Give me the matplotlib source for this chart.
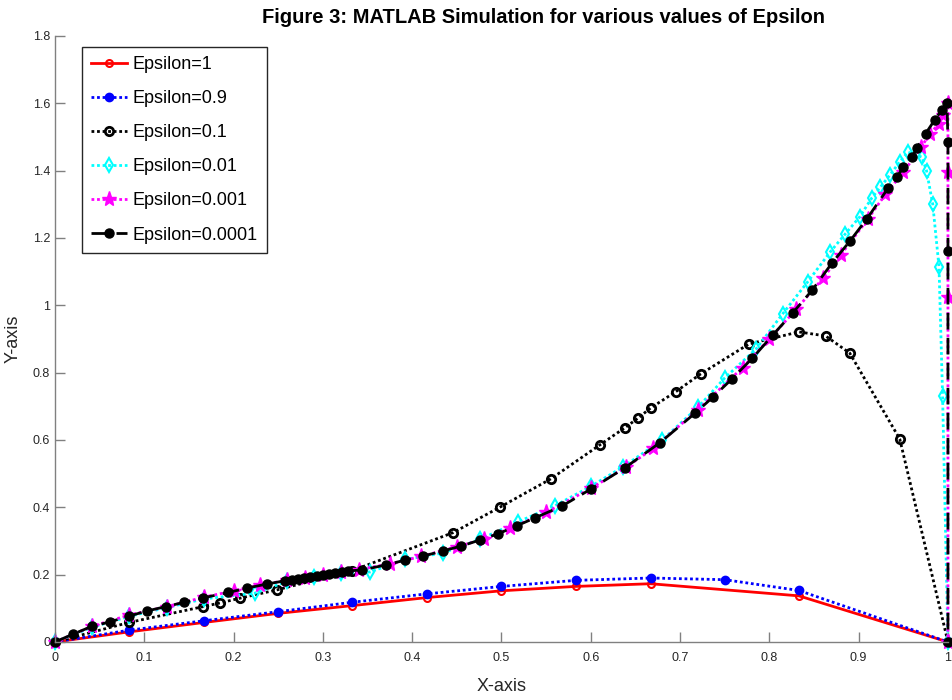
import matplotlib as mpl
import matplotlib.pyplot as plt
from matplotlib.ticker import FuncFormatter

mpl.rcParams.update({
    "font.family": ["Liberation Sans", "DejaVu Sans"],
    "font.size": 9,
})

# Epsilon = 1
x_e1 = [0, 0.083, 0.167, 0.25, 0.333, 0.417, 0.5, 0.583, 0.667, 0.833, 1.0]
y_e1 = [0, 0.030, 0.058, 0.085, 0.108, 0.132, 0.152, 0.165, 0.173, 0.137, 0]

# Epsilon = 0.9
x_e09 = [0, 0.083, 0.167, 0.25, 0.333, 0.417, 0.5, 0.583, 0.667, 0.75, 0.833, 1.0]
y_e09 = [0, 0.035, 0.063, 0.090, 0.118, 0.143, 0.165, 0.183, 0.190, 0.185, 0.153, 0]

# Epsilon = 0.1
x_e01 = [0, 0.083, 0.166, 0.185, 0.207, 0.249, 0.333, 0.446, 0.498, 0.555,
         0.61, 0.638, 0.653, 0.667, 0.695, 0.723, 0.777, 0.833, 0.863, 0.89,
         0.946, 1.0]
y_e01 = [0, 0.058, 0.105, 0.116, 0.130, 0.155, 0.212, 0.325, 0.400, 0.484,
         0.585, 0.636, 0.665, 0.695, 0.743, 0.796, 0.885, 0.921, 0.909, 0.858,
         0.603, 0]

# Epsilon = 0.01
x_e001 = [0, 0.042, 0.083, 0.125, 0.167, 0.224, 0.26, 0.29, 0.32, 0.353,
          0.392, 0.434, 0.476, 0.518, 0.56, 0.6, 0.636, 0.68, 0.72, 0.75,
          0.785, 0.815, 0.843, 0.868, 0.885, 0.901, 0.915, 0.924, 0.935, 0.946,
          0.955, 0.971, 0.976, 0.983, 0.99, 0.994, 1.0]
y_e001 = [0, 0.044, 0.076, 0.102, 0.128, 0.145, 0.180, 0.192, 0.204, 0.208,
          0.245, 0.264, 0.305, 0.356, 0.405, 0.462, 0.520, 0.600, 0.697, 0.784,
          0.870, 0.975, 1.070, 1.158, 1.212, 1.262, 1.320, 1.350, 1.387, 1.426,
          1.455, 1.440, 1.400, 1.300, 1.114, 0.730, 0]

# Epsilon = 0.001
x_e0001 = [0, 0.042, 0.083, 0.125, 0.167, 0.2, 0.23, 0.26, 0.28, 0.3,
           0.32, 0.34, 0.375, 0.41, 0.45, 0.48, 0.51, 0.55, 0.6, 0.64,
           0.67, 0.72, 0.77, 0.8, 0.83, 0.86, 0.88, 0.91, 0.93, 0.95,
           0.97, 0.98, 0.99, 0.995, 1.0, 1.0, 1.0, 1.0]
y_e0001 = [0, 0.047, 0.080, 0.105, 0.133, 0.152, 0.170, 0.183, 0.190, 0.200,
           0.207, 0.215, 0.232, 0.254, 0.283, 0.305, 0.338, 0.385, 0.456, 0.520,
           0.575, 0.690, 0.815, 0.900, 0.988, 1.080, 1.150, 1.255, 1.330, 1.395,
           1.470, 1.510, 1.540, 1.565, 1.600, 1.396, 1.025, 0]

# Epsilon = 0.0001
x_e00001 = [0, 0.02, 0.041, 0.062, 0.083, 0.103, 0.124, 0.145, 0.166, 0.194,
            0.215, 0.237, 0.258, 0.265, 0.272, 0.279, 0.286, 0.293, 0.30, 0.307,
            0.314, 0.321, 0.328, 0.344, 0.371, 0.392, 0.412, 0.434, 0.455, 0.476,
            0.496, 0.517, 0.537, 0.568, 0.60, 0.638, 0.677, 0.717, 0.737, 0.758,
            0.781, 0.804, 0.826, 0.848, 0.87, 0.89, 0.909, 0.933, 0.943, 0.95,
            0.96, 0.965, 0.975, 0.985, 0.993, 0.999, 1.0, 1.0, 1.0]
y_e00001 = [0, 0.023, 0.046, 0.060, 0.077, 0.092, 0.105, 0.118, 0.131, 0.147,
            0.160, 0.172, 0.182, 0.184, 0.187, 0.190, 0.193, 0.196, 0.199, 0.202,
            0.205, 0.208, 0.211, 0.214, 0.229, 0.243, 0.255, 0.270, 0.285, 0.303,
            0.321, 0.345, 0.368, 0.404, 0.454, 0.517, 0.591, 0.680, 0.728, 0.781,
            0.843, 0.912, 0.977, 1.045, 1.125, 1.190, 1.256, 1.348, 1.381, 1.410,
            1.440, 1.467, 1.510, 1.550, 1.580, 1.600, 1.485, 1.160, 0]

dot = (0, (1, 1))

fig = plt.figure(figsize=(9.53, 7.0), dpi=100)
ax = fig.add_axes([0.0577, 0.0829, 0.937, 0.8657])

ax.plot(x_e1, y_e1, color="red", lw=2, ls="-", marker="o", ms=5,
        mfc="none", mew=1.5, label="Epsilon=1", clip_on=False)
ax.plot(x_e09, y_e09, color="blue", lw=2, ls=dot, marker="o", ms=6,
        mfc="blue", label="Epsilon=0.9", clip_on=False)
ax.plot(x_e01, y_e01, color="black", lw=2, ls=dot, marker="o", ms=6,
        mfc="none", mew=2, label="Epsilon=0.1", clip_on=False)
ax.plot(x_e001, y_e001, color="cyan", lw=2, ls=dot, marker="d", ms=7,
        mfc="none", mew=1.5, label="Epsilon=0.01", clip_on=False)
ax.plot(x_e0001, y_e0001, color="magenta", lw=2, ls=dot, marker="*", ms=11,
        mfc="magenta", label="Epsilon=0.001", clip_on=False)
ax.plot(x_e00001, y_e00001, color="black", lw=2, ls=(0, (6, 3)), marker="o",
        ms=6.5, mfc="black", label="Epsilon=0.0001", clip_on=False)

ax.set_xlim(0, 1)
ax.set_ylim(0, 1.8)
ax.set_xticks([i / 10 for i in range(11)])
ax.set_yticks([i / 5 for i in range(10)])
fmt = FuncFormatter(lambda v, p: f"{v:g}")
ax.xaxis.set_major_formatter(fmt)
ax.yaxis.set_major_formatter(fmt)

for s in ["top", "right"]:
    ax.spines[s].set_visible(False)
for s in ["left", "bottom"]:
    ax.spines[s].set_color("#808080")
    ax.spines[s].set_linewidth(1.0)
ax.tick_params(direction="in", length=7, width=1, colors="#808080",
               labelcolor="#262626", labelsize=9)
ax.tick_params(axis="x", pad=7)

ax.set_xlabel("X-axis", fontsize=13, color="#262626", labelpad=10)
ax.set_ylabel("Y-axis", fontsize=13, color="#262626", labelpad=8)
fig.text(0.57, 0.975, "Figure 3: MATLAB Simulation for various values of Epsilon",
         fontsize=14.5, fontweight="bold", ha="center", va="center")

leg = ax.legend(loc="upper left", bbox_to_anchor=(0.02, 0.997), fontsize=13,
                handlelength=2.0, handletextpad=0.3, labelspacing=0.95,
                borderpad=0.5, fancybox=False, framealpha=1)
leg.get_frame().set_edgecolor("#262626")
leg.get_frame().set_linewidth(1.0)

fig.savefig("out.png", dpi=100)
